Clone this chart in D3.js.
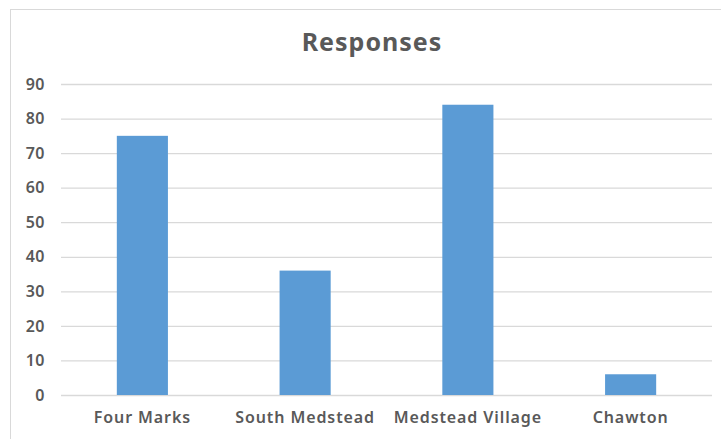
<!DOCTYPE html>
<html>
<head>
<meta charset="utf-8">
<script src="https://cdn.jsdelivr.net/npm/d3@7"></script>
<style>
  html, body { margin: 0; padding: 0; background: #fff; }
  svg { display: block; }
  text { font-family: "Noto Sans", "DejaVu Sans", sans-serif; fill: #595959; }
</style>
</head>
<body>
<svg id="chart" width="721" height="439"></svg>
<script>
// Survey responses by area
const categories = ["Four Marks", "South Medstead", "Medstead Village", "Chawton"];
const responses = [75, 36, 84, 6];
const yTicks = [0, 10, 20, 30, 40, 50, 60, 70, 80, 90];
const chartTitle = "Responses";

const W = 721, H = 439;
const plot = { left: 61, right: 712, top: 84, bottom: 395 };

const svg = d3.select("#chart");

// Chart frame (continues past the right and bottom edges)
svg.append("rect")
  .attr("x", 10.5).attr("y", 9.5)
  .attr("width", 760).attr("height", 480)
  .attr("fill", "#fff")
  .attr("stroke", "#d9d9d9")
  .attr("stroke-width", 1);

const x = d3.scaleBand()
  .domain(categories)
  .range([plot.left, plot.right])
  .paddingInner(0.686)
  .paddingOuter(0.343);

const y = d3.scaleLinear()
  .domain([0, 90])
  .range([plot.bottom, plot.top]);

// Gridlines + value labels
const yAxis = d3.axisLeft(y)
  .tickValues(yTicks)
  .tickSize(-(plot.right - plot.left))
  .tickPadding(16)
  .tickFormat(d3.format("d"));

const gy = svg.append("g")
  .attr("transform", `translate(${plot.left},0)`)
  .call(yAxis);
gy.select(".domain").remove();
gy.selectAll(".tick line").attr("stroke", "#d9d9d9").attr("stroke-width", 1.3);
gy.selectAll(".tick text")
  .attr("fill", "#595959")
  .style("font-size", "16px")
  .style("font-weight", "600")
  .style("letter-spacing", "0.5px");

// Bars
svg.append("g").selectAll("rect")
  .data(categories)
  .join("rect")
  .attr("x", d => x(d))
  .attr("width", x.bandwidth())
  .attr("y", (d, i) => y(responses[i]))
  .attr("height", (d, i) => y(0) - y(responses[i]))
  .attr("fill", "#5b9bd5");

// Category axis
const xAxis = d3.axisBottom(x).tickSize(0).tickPadding(17);
const gx = svg.append("g")
  .attr("transform", `translate(0,${plot.bottom})`)
  .call(xAxis);
gx.select(".domain").remove();
gx.selectAll(".tick text")
  .attr("fill", "#595959")
  .style("font-size", "16px")
  .style("font-weight", "600")
  .style("letter-spacing", "0.9px");

// Title
svg.append("text")
  .attr("x", 372)
  .attr("y", 51)
  .attr("text-anchor", "middle")
  .style("font-size", "25px")
  .style("font-weight", "700")
  .style("letter-spacing", "1px")
  .text(chartTitle);
</script>
</body>
</html>
